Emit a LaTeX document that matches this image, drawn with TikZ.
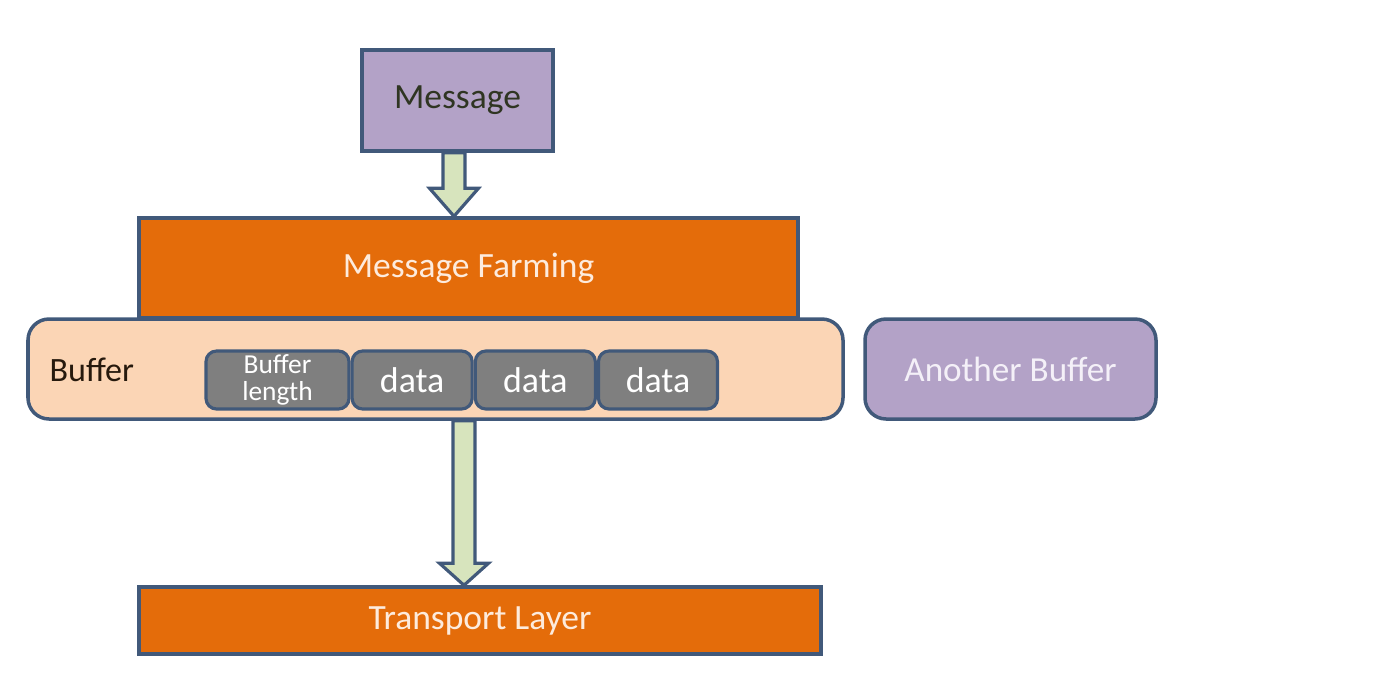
\documentclass[tikz,border=0pt]{standalone}
\usepackage{fontspec}
\setmainfont{Carlito}
\usepackage{tikz}
\usetikzlibrary{calc,positioning}
\definecolor{lineBlue}{HTML}{41597A}
\definecolor{boxLilac}{HTML}{B3A2C7}
\definecolor{boxOrange}{HTML}{E46C0A}
\definecolor{boxPeach}{HTML}{FBD5B5}
\definecolor{cellGray}{HTML}{7F7F7F}
\definecolor{arrowGreen}{HTML}{D7E4BD}
\definecolor{textDark}{HTML}{2F3522}
\definecolor{textLight}{HTML}{FDEBDD}
\definecolor{textLilac}{HTML}{F4F0F8}

\newcommand{\blockarrow}[4]{%
  \path (#2.south -| #1) coordinate (ba-s) (#3.north -| #1) coordinate (ba-t);
  \draw[blockarr] ($(ba-s)+(-0.11,0)$) -- ($(ba-t)+(-0.11,#4)$) -- ($(ba-t)+(-0.245,#4)$)
    -- (ba-t) -- ($(ba-t)+(0.245,#4)$) -- ($(ba-t)+(0.11,#4)$) -- ($(ba-s)+(0.11,0)$) -- cycle;
}

\begin{document}
\begin{tikzpicture}[
    node distance=0pt and 0pt,
    layer/.style={rectangle, draw=lineBlue, line width=1pt, fill=boxOrange, text=textLight,
                  font=\fontsize{10.1}{11}\selectfont, inner sep=0pt},
    msgbox/.style={rectangle, draw=lineBlue, line width=1pt, fill=boxLilac, text=textDark,
                   minimum width=1.91cm, minimum height=1.01cm, font=\fontsize{10.1}{11}\selectfont},
    bufbox/.style={rectangle, rounded corners=6pt, draw=lineBlue, line width=1pt,
                   minimum height=1cm, font=\fontsize{10}{11}\selectfont, inner sep=0pt},
    cell/.style={rectangle, rounded corners=3pt, draw=lineBlue, line width=0.9pt, fill=cellGray,
                 text=white, minimum height=0.58cm, inner sep=0pt, font=\fontsize{10.2}{11}\selectfont},
    blockarr/.style={draw=lineBlue, line width=0.9pt, fill=arrowGreen, line join=miter},
]
    \useasboundingbox (0,0) rectangle (14,6.8);

    \node[msgbox] (msg) at (4.575,5.795) {Message};
    \node[layer, minimum width=6.59cm, minimum height=1cm] (farm) at (4.685,4.12) {Message Farming};
    \node[bufbox, fill=boxPeach, minimum width=8.15cm] (buf) at (4.355,3.11) {};
    \node[anchor=west, inner sep=0pt, font=\fontsize{9.7}{11}\selectfont, text=black!80!brown] (buflabel) at (0.49,3.10) {Buffer};

    \node[cell, minimum width=1.43cm, font=\fontsize{7.8}{7.6}\selectfont, align=center] (blen) at (2.775,3.00) {Buffer\\length};
    \node[cell, minimum width=1.20cm, right=of blen] (d1) {data};
    \node[cell, minimum width=1.20cm, right=of d1] (d2) {data};
    \node[cell, minimum width=1.19cm, right=of d2] (d3) {data};

    \node[bufbox, fill=boxLilac, text=textLilac, minimum width=2.91cm] (other) at (10.105,3.11) {Another Buffer};
    \node[layer, minimum width=6.82cm, minimum height=0.67cm] (trans) at (4.80,0.595) {Transport Layer};

    \coordinate (ax1) at (4.54,0);
    \coordinate (ax2) at (4.64,0);
    \blockarrow{ax1}{msg}{farm}{0.28}
    \blockarrow{ax2}{buf}{trans}{0.22}
\end{tikzpicture}
\end{document}
